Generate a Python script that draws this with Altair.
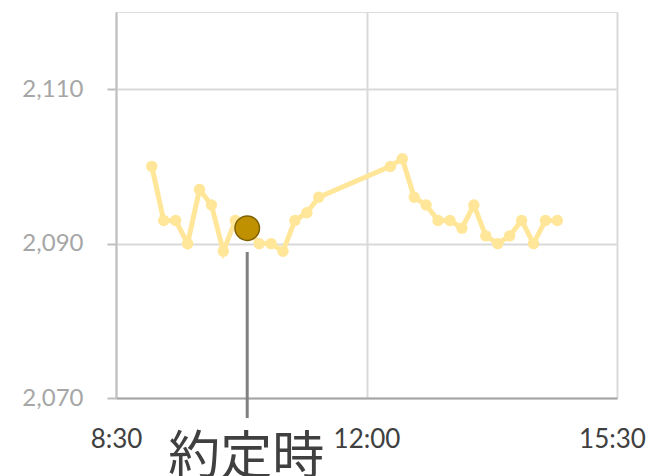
import altair as alt
import pandas as pd

# Intraday prices, 10-minute bars
times = ["9:00", "9:10", "9:20", "9:30", "9:40", "9:50", "10:00", "10:10",
         "10:20", "10:30", "10:40", "10:50", "11:00", "11:10", "11:20",
         "12:20", "12:30", "12:40", "12:50", "13:00", "13:10", "13:20",
         "13:30", "13:40", "13:50", "14:00", "14:10", "14:20", "14:30", "14:40"]
prices = [2100, 2093, 2093, 2090, 2097, 2095, 2089, 2093,
          2092, 2090, 2090, 2089, 2093, 2094, 2096,
          2100, 2101, 2096, 2095, 2093, 2093, 2092,
          2095, 2091, 2090, 2091, 2093, 2090, 2093, 2093]

# Execution point
fill_time = "10:20"
fill_price = 2092
fill_label = "約定時"

x_ticks = [510, 720, 930]  # 8:30, 12:00, 15:30 in minutes
y_ticks = [2070, 2090, 2110]


def to_minutes(t):
    h, m = t.split(":")
    return int(h) * 60 + int(m)


df = pd.DataFrame({"t": [to_minutes(t) for t in times], "price": prices})
fill_df = pd.DataFrame({"t": [to_minutes(fill_time)], "price": [fill_price],
                        "label": [fill_label]})

label_font = "Lato"

x_scale = alt.Scale(domain=[510, 930], nice=False, zero=False)
y_scale = alt.Scale(domain=[2070, 2120], nice=False, zero=False)

x_axis = alt.Axis(
    values=x_ticks,
    labelExpr="floor(datum.value/60) + ':' + (datum.value % 60 < 10 ? '0' : '') + (datum.value % 60)",
    title=None, domain=True, domainColor="#A6A6A6", domainWidth=2,
    ticks=False, grid=True, gridColor="#D9D9D9", gridWidth=2,
    labelFont=label_font, labelFontSize=26, labelColor="#404040",
    labelPadding=28, labelOverlap=False, labelFlush=False,
    # keep the closing-time label inside the canvas
    labelOffset={"condition": {"test": "datum.value == 930", "value": -5}, "value": 0},
)
y_axis = alt.Axis(
    values=y_ticks, format=",d", title=None,
    domain=True, domainColor="#BFBFBF", domainWidth=2,
    ticks=True, tickSize=9, tickColor="#BFBFBF", tickWidth=2,
    grid=True, gridColor="#D9D9D9", gridWidth=2,
    labelFont=label_font, labelFontSize=24, labelColor="#A6A6A6",
    labelPadding=24,
)

base = alt.Chart(df)

line = base.mark_line(color="#FFE699", strokeWidth=5).encode(
    x=alt.X("t:Q", scale=x_scale, axis=x_axis),
    y=alt.Y("price:Q", scale=y_scale, axis=y_axis),
)
dots = base.mark_circle(color="#FFE699", opacity=1, size=130).encode(
    x=alt.X("t:Q", scale=x_scale),
    y=alt.Y("price:Q", scale=y_scale),
)

fill_base = alt.Chart(fill_df)

# Leader line from the fill marker down past the time axis
leader = fill_base.mark_rule(color="#808080", strokeWidth=3).encode(
    x=alt.X("t:Q", scale=x_scale),
    y=alt.value(240),
    y2=alt.value(406),
)
fill_dot = fill_base.mark_circle(
    color="#BF9000", opacity=1, size=600, stroke="#7F6000", strokeWidth=1.5
).encode(
    x=alt.X("t:Q", scale=x_scale),
    y=alt.Y("price:Q", scale=y_scale),
)
fill_text = fill_base.mark_text(
    font="Noto Sans CJK JP", fontSize=52, color="#404040",
    align="center", baseline="alphabetic", dx=-1,
).encode(
    x=alt.X("t:Q", scale=x_scale),
    y=alt.value(462),
    text="label:N",
)

chart = (
    alt.layer(line, dots, leader, fill_dot, fill_text)
    .properties(
        width=501, height=386,
        autosize=alt.AutoSizeParams(type="none"),
        padding={"left": 116, "top": 12, "right": 33, "bottom": 78},
    )
    .configure_view(stroke="#BFBFBF", strokeWidth=2)
    .configure(background="white")
)

chart.save("out.html", embed_options={"renderer": "svg", "actions": False})
